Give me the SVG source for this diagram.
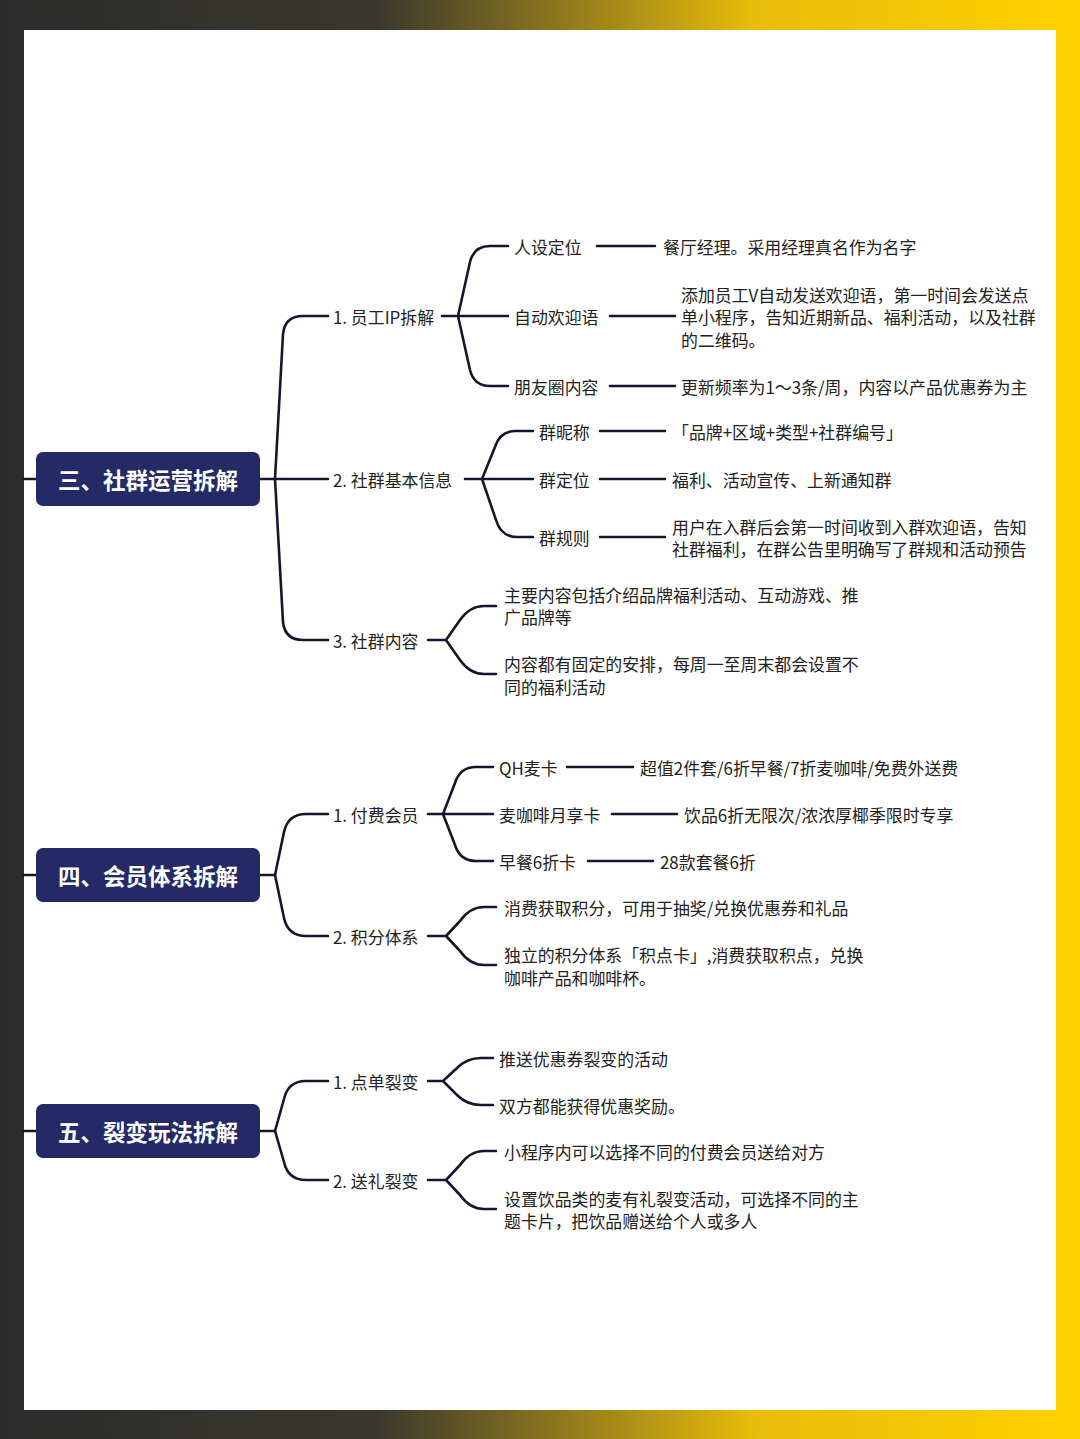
<svg xmlns="http://www.w3.org/2000/svg" width="1080" height="1439" viewBox="0 0 1080 1439">
<defs>
<linearGradient id="bg" x1="0" y1="0" x2="1" y2="0">
<stop offset="0" stop-color="#2b2b2b"/><stop offset="0.35" stop-color="#3a382e"/><stop offset="0.7" stop-color="#e8bc0a"/><stop offset="1" stop-color="#ffd200"/>
</linearGradient>
<style>
.c{fill:none;stroke:#14162e;stroke-width:2.6;stroke-linecap:round;stroke-linejoin:round}
.t{font-family:"Noto Sans CJK SC","Noto Sans",sans-serif;font-size:16.9px;fill:#222;dominant-baseline:central}
.r{fill:#232a66}
.rt{font-family:"Noto Sans CJK SC","Noto Sans",sans-serif;font-size:22.5px;font-weight:bold;fill:#fff;dominant-baseline:central;text-anchor:middle}
</style>
</defs>
<rect width="1080" height="1439" fill="url(#bg)"/>
<rect x="24" y="30" width="1032" height="1380" fill="#fff"/>
<g id="connectors">
<path class="c" d="M24,479 H36 M260,479 H328"/>
<path class="c" d="M275,479 L283,334 Q285,316 303,316 H328"/>
<path class="c" d="M275,479 L283,622 Q285,640 303,640 H328"/>
<path class="c" d="M442,316 H508 M458,316 L470,262 Q474,246 490,246 H508 M458,316 L470,370 Q474,386 490,386 H508"/>
<path class="c" d="M597,246 H655 M610,316 H675 M610,386 H675"/>
<path class="c" d="M465,479 H533 M482,479 L495,447 Q500,431 516,431 H533 M482,479 L496,520 Q501,537 517,537 H533"/>
<path class="c" d="M600,431 H665 M600,479 H665 M600,537 H665"/>
<path class="c" d="M428,640 H446 L460,620 Q470,606 484,606 H496 M446,640 L460,660 Q470,674 484,674 H496"/>
<path class="c" d="M24,875 H36 M260,875 H275"/>
<path class="c" d="M275,875 L284,832 Q288,814 306,814 H328"/>
<path class="c" d="M275,875 L284,918 Q288,936 306,936 H328"/>
<path class="c" d="M428,814 H493 M443,814 L455,783 Q460,767 476,767 H493 M443,814 L455,845 Q460,861 476,861 H493"/>
<path class="c" d="M567,767 H633 M612,814 H677 M588,861 H653"/>
<path class="c" d="M428,936 H446 L460,921 Q470,907 484,907 H496 M446,936 L460,951 Q470,965 484,965 H496"/>
<path class="c" d="M24,1131 H36 M260,1131 H275"/>
<path class="c" d="M275,1131 L284,1099 Q288,1081 306,1081 H328"/>
<path class="c" d="M275,1131 L284,1162 Q288,1180 306,1180 H328"/>
<path class="c" d="M428,1081 H443 L457,1068 Q467,1058 481,1058 H493 M443,1081 L457,1095 Q467,1105 481,1105 H493"/>
<path class="c" d="M428,1180 H446 L460,1165 Q470,1151 484,1151 H496 M446,1180 L460,1195 Q470,1209 484,1209 H496"/>
</g>
<g id="root3"><rect class="r" x="36" y="452" width="224" height="54" rx="7"/><text class="rt" x="148" y="479">三、社群运营拆解</text></g>
<g id="root4"><rect class="r" x="36" y="848" width="224" height="54" rx="7"/><text class="rt" x="148" y="875">四、会员体系拆解</text></g>
<g id="root5"><rect class="r" x="36" y="1104" width="224" height="54" rx="7"/><text class="rt" x="148" y="1131">五、裂变玩法拆解</text></g>
<g id="s3-1"><text class="t" x="333" y="316">1. 员工IP拆解</text></g>
<g id="s3-1a"><text class="t" x="514" y="246">人设定位</text><text class="t" x="663" y="246">餐厅经理。采用经理真名作为名字</text></g>
<g id="s3-1b"><text class="t" x="514" y="316">自动欢迎语</text><text class="t" x="681" y="294">添加员工V自动发送欢迎语，第一时间会发送点</text><text class="t" x="681" y="316">单小程序，告知近期新品、福利活动，以及社群</text><text class="t" x="681" y="339">的二维码。</text></g>
<g id="s3-1c"><text class="t" x="514" y="386">朋友圈内容</text><text class="t" x="681" y="386">更新频率为1～3条/周，内容以产品优惠券为主</text></g>
<g id="s3-2"><text class="t" x="333" y="479">2. 社群基本信息</text></g>
<g id="s3-2a"><text class="t" x="539" y="431">群昵称</text><text class="t" x="672" y="431">「品牌+区域+类型+社群编号」</text></g>
<g id="s3-2b"><text class="t" x="539" y="479">群定位</text><text class="t" x="672" y="479">福利、活动宣传、上新通知群</text></g>
<g id="s3-2c"><text class="t" x="539" y="537">群规则</text><text class="t" x="672" y="526">用户在入群后会第一时间收到入群欢迎语，告知</text><text class="t" x="672" y="548">社群福利，在群公告里明确写了群规和活动预告</text></g>
<g id="s3-3"><text class="t" x="333" y="640">3. 社群内容</text></g>
<g id="s3-3a"><text class="t" x="504" y="594">主要内容包括介绍品牌福利活动、互动游戏、推</text><text class="t" x="504" y="616">广品牌等</text></g>
<g id="s3-3b"><text class="t" x="504" y="663">内容都有固定的安排，每周一至周末都会设置不</text><text class="t" x="504" y="686">同的福利活动</text></g>
<g id="s4-1"><text class="t" x="333" y="814">1. 付费会员</text></g>
<g id="s4-1a"><text class="t" x="499" y="767">QH麦卡</text><text class="t" x="640" y="767">超值2件套/6折早餐/7折麦咖啡/免费外送费</text></g>
<g id="s4-1b"><text class="t" x="499" y="814">麦咖啡月享卡</text><text class="t" x="684" y="814">饮品6折无限次/浓浓厚椰季限时专享</text></g>
<g id="s4-1c"><text class="t" x="499" y="861">早餐6折卡</text><text class="t" x="660" y="861">28款套餐6折</text></g>
<g id="s4-2"><text class="t" x="333" y="936">2. 积分体系</text></g>
<g id="s4-2a"><text class="t" x="504" y="907">消费获取积分，可用于抽奖/兑换优惠券和礼品</text></g>
<g id="s4-2b"><text class="t" x="504" y="954">独立的积分体系「积点卡」,消费获取积点，兑换</text><text class="t" x="504" y="977">咖啡产品和咖啡杯。</text></g>
<g id="s5-1"><text class="t" x="333" y="1081">1. 点单裂变</text></g>
<g id="s5-1a"><text class="t" x="499" y="1058">推送优惠券裂变的活动</text></g>
<g id="s5-1b"><text class="t" x="499" y="1105">双方都能获得优惠奖励。</text></g>
<g id="s5-2"><text class="t" x="333" y="1180">2. 送礼裂变</text></g>
<g id="s5-2a"><text class="t" x="504" y="1151">小程序内可以选择不同的付费会员送给对方</text></g>
<g id="s5-2b"><text class="t" x="504" y="1198">设置饮品类的麦有礼裂变活动，可选择不同的主</text><text class="t" x="504" y="1220">题卡片，把饮品赠送给个人或多人</text></g>
</svg>
